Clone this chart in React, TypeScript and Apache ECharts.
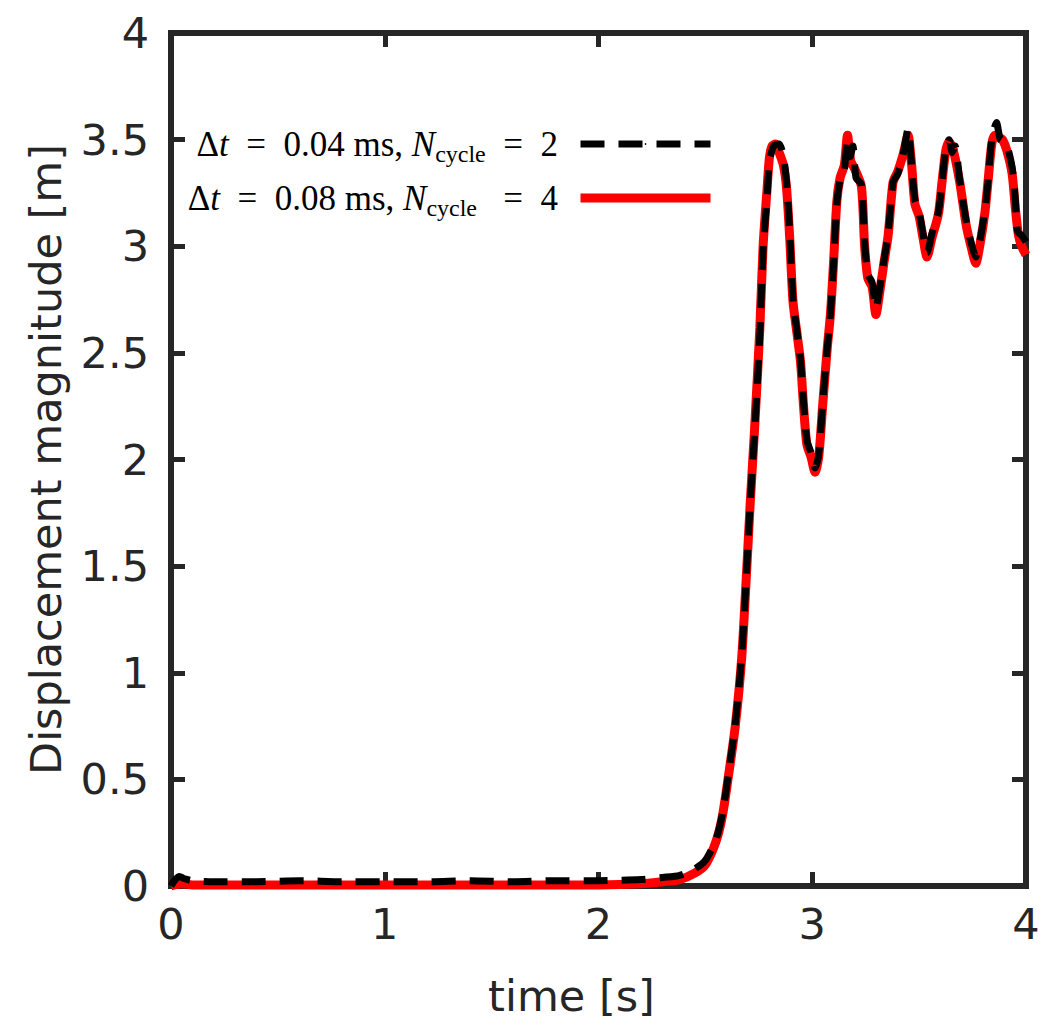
import React, { useEffect, useRef } from "react";
import * as echarts from "echarts";

const xTicks = [0, 1, 2, 3, 4];
const yTicks = [0, 0.5, 1, 1.5, 2, 2.5, 3, 3.5, 4];

const seriesNames = ["dt004", "dt008"];

// black dashed: dt = 0.04 ms, Ncycle = 2
const timeA = [
  0, 0.02, 0.04, 0.06, 0.1, 0.2, 0.4, 0.6, 0.8, 1.0, 1.2, 1.4, 1.6, 1.8, 2.0, 2.2, 2.3, 2.38, 2.45, 2.5,
  2.55, 2.58, 2.61, 2.64, 2.67, 2.69, 2.71, 2.73, 2.755, 2.77, 2.788, 2.8, 2.82, 2.845, 2.865, 2.88, 2.895,
  2.91, 2.93, 2.945, 2.96, 2.975, 2.995, 3.013, 3.03, 3.05, 3.07, 3.085, 3.1, 3.115, 3.13, 3.15, 3.165,
  3.178, 3.19, 3.205, 3.23, 3.245, 3.26, 3.28, 3.298, 3.315, 3.335, 3.355, 3.378, 3.4, 3.425, 3.448, 3.465,
  3.48, 3.5, 3.518, 3.537, 3.56, 3.59, 3.607, 3.625, 3.64, 3.655, 3.668, 3.69, 3.72, 3.745, 3.765, 3.785,
  3.808, 3.822, 3.84, 3.862, 3.88, 3.9, 3.915, 3.935, 3.95, 3.96, 3.98, 4.0,
];
const dispA = [
  0.0, 0.03, 0.045, 0.035, 0.025, 0.02, 0.02, 0.025, 0.02, 0.02, 0.02, 0.025, 0.02, 0.025, 0.025, 0.03, 0.04,
  0.05, 0.08, 0.12, 0.22, 0.34, 0.54, 0.76, 1.08, 1.42, 1.8, 2.12, 2.59, 2.98, 3.22, 3.4, 3.47, 3.48, 3.42,
  3.3, 3.06, 2.75, 2.59, 2.47, 2.26, 2.09, 2.03, 1.96, 2.02, 2.28, 2.52, 2.68, 2.92, 3.2, 3.31, 3.36, 3.5,
  3.42, 3.47, 3.32, 3.29, 3.02, 2.87, 2.83, 2.71, 2.8, 2.93, 3.06, 3.3, 3.34, 3.43, 3.55, 3.38, 3.22, 3.16,
  3.06, 2.97, 3.06, 3.16, 3.3, 3.46, 3.5, 3.44, 3.47, 3.31, 3.12, 3.01, 2.95, 3.03, 3.17, 3.3, 3.5, 3.58,
  3.5, 3.49, 3.46, 3.37, 3.22, 3.07, 3.05, 3.02,
];

// red solid: dt = 0.08 ms, Ncycle = 4
const timeB = [
  0, 0.05, 0.1, 0.4, 0.8, 1.2, 1.6, 2.0, 2.2, 2.3, 2.38, 2.45, 2.5, 2.55, 2.58, 2.61, 2.64, 2.67, 2.69,
  2.71, 2.73, 2.755, 2.77, 2.788, 2.8, 2.812, 2.828, 2.845, 2.865, 2.88, 2.895, 2.91, 2.93, 2.945, 2.96,
  2.975, 2.995, 3.013, 3.03, 3.05, 3.07, 3.085, 3.1, 3.115, 3.13, 3.15, 3.165, 3.18, 3.2, 3.23, 3.245,
  3.26, 3.28, 3.298, 3.315, 3.335, 3.355, 3.378, 3.4, 3.425, 3.448, 3.465, 3.48, 3.5, 3.518, 3.537, 3.56,
  3.59, 3.607, 3.625, 3.64, 3.66, 3.69, 3.72, 3.745, 3.765, 3.785, 3.808, 3.822, 3.84, 3.855, 3.875, 3.89,
  3.91, 3.935, 3.95, 3.965, 3.98, 4.0,
];
const dispB = [
  0.0, 0.01, 0.005, 0.005, 0.005, 0.005, 0.005, 0.005, 0.01, 0.02, 0.03, 0.06, 0.1, 0.21, 0.33, 0.53, 0.75,
  1.07, 1.42, 1.8, 2.14, 2.62, 3.0, 3.26, 3.42, 3.47, 3.48, 3.44, 3.38, 3.27, 3.03, 2.74, 2.58, 2.46,
  2.24, 2.07, 2.01, 1.94, 2.01, 2.27, 2.52, 2.68, 2.93, 3.21, 3.32, 3.38, 3.52, 3.4, 3.36, 3.28, 3.0,
  2.85, 2.81, 2.68, 2.78, 2.92, 3.05, 3.3, 3.35, 3.43, 3.52, 3.38, 3.2, 3.14, 3.04, 2.95, 3.04, 3.15,
  3.3, 3.45, 3.49, 3.45, 3.3, 3.1, 2.99, 2.92, 3.01, 3.16, 3.3, 3.48, 3.52, 3.51, 3.5, 3.45, 3.34, 3.18,
  3.05, 3.0, 2.96,
];

const axisColor = "#262626";
const sansFont = "DejaVu Sans";
const serifFont = "Liberation Serif";

const legendLabels: Record<string, string> = {
  dt004: "{n|Δ}{i|t}{n|  =  0.04 ms, }{i|N}{s|cycle}{n|  =  2  }",
  dt008: "{n|Δ}{i|t}{n|  =  0.08 ms, }{i|N}{s|cycle}{n|   =  4  }",
};

const makeTick = () => ({ show: true, inside: true, length: 14, lineStyle: { color: axisColor, width: 5 } });

export default function App() {
  const ref = useRef<HTMLDivElement>(null);
  useEffect(() => {
    if (!ref.current) return;
    const chart = echarts.init(ref.current, undefined, { renderer: "svg" });
    const pairsA = timeA.map((t, i) => [t, dispA[i]]);
    const pairsB = timeB.map((t, i) => [t, dispB[i]]);
    chart.setOption({
      animation: false,
      backgroundColor: "#ffffff",
      grid: {
        left: 171,
        right: 24,
        top: 33,
        bottom: 150,
        show: true,
        borderColor: axisColor,
        borderWidth: 6,
        backgroundColor: "transparent",
      },
      legend: {
        data: seriesNames,
        orient: "vertical",
        right: 335,
        top: 122,
        padding: 0,
        align: "right",
        itemWidth: 130,
        itemHeight: 2,
        itemGap: 10,
        lineStyle: { width: "inherit", type: "inherit" },
        formatter: (name: string) => legendLabels[name],
        textStyle: {
          fontFamily: serifFont,
          fontSize: 35,
          color: "#000",
          lineHeight: 44,
          rich: {
            n: { fontFamily: serifFont, fontSize: 35, lineHeight: 44, color: "#000" },
            i: { fontFamily: serifFont, fontSize: 35, lineHeight: 44, fontStyle: "italic", color: "#000" },
            s: { fontFamily: serifFont, fontSize: 24, lineHeight: 24, verticalAlign: "bottom", color: "#000" },
          },
        },
      },
      xAxis: [
        {
          type: "value",
          min: 0,
          max: 4,
          interval: 1,
          position: "bottom",
          name: "time [s]",
          nameLocation: "middle",
          nameGap: 88,
          nameTextStyle: { fontFamily: sansFont, fontSize: 43, color: axisColor, padding: [0, 54, 0, 0] },
          axisLine: { show: true, onZero: false, lineStyle: { color: axisColor, width: 6 } },
          axisTick: makeTick(),
          axisLabel: {
            fontFamily: sansFont,
            fontSize: 43,
            color: axisColor,
            margin: 16,
            formatter: (v: number) => (xTicks.includes(v) ? String(v) : ""),
          },
          splitLine: { show: false },
        },
        {
          type: "value",
          min: 0,
          max: 4,
          interval: 1,
          position: "top",
          axisLine: { show: false, onZero: false },
          axisTick: makeTick(),
          axisLabel: { show: false },
          splitLine: { show: false },
        },
      ],
      yAxis: [
        {
          type: "value",
          min: 0,
          max: 4,
          interval: 0.5,
          position: "left",
          name: "Displacement magnitude [m]",
          nameLocation: "middle",
          nameGap: 104,
          nameTextStyle: { fontFamily: sansFont, fontSize: 43, color: axisColor },
          axisLine: { show: true, onZero: false, lineStyle: { color: axisColor, width: 6 } },
          axisTick: makeTick(),
          axisLabel: {
            fontFamily: sansFont,
            fontSize: 43,
            color: axisColor,
            margin: 22,
            formatter: (v: number) => (yTicks.includes(v) ? String(v) : ""),
          },
          splitLine: { show: false },
        },
        {
          type: "value",
          min: 0,
          max: 4,
          interval: 0.5,
          position: "right",
          axisLine: { show: false, onZero: false },
          axisTick: makeTick(),
          axisLabel: { show: false },
          splitLine: { show: false },
        },
      ],
      series: [
        {
          name: seriesNames[0],
          type: "line",
          data: pairsA,
          showSymbol: false,
          symbol: "none",
          smooth: 0.25,
          z: 4,
          lineStyle: { color: "#000000", width: 7, type: [24, 14] },
          itemStyle: { color: "#000000" },
        },
        {
          name: seriesNames[1],
          type: "line",
          data: pairsB,
          showSymbol: false,
          symbol: "none",
          smooth: 0.25,
          z: 3,
          lineStyle: { color: "#ff0000", width: 9, type: "solid" },
          itemStyle: { color: "#ff0000" },
        },
      ],
    });
    return () => chart.dispose();
  }, []);
  return (
    <div
      ref={ref}
      style={{ position: "absolute", left: 0, top: 0, width: 1050, height: 1036, background: "#fff" }}
    />
  );
}
